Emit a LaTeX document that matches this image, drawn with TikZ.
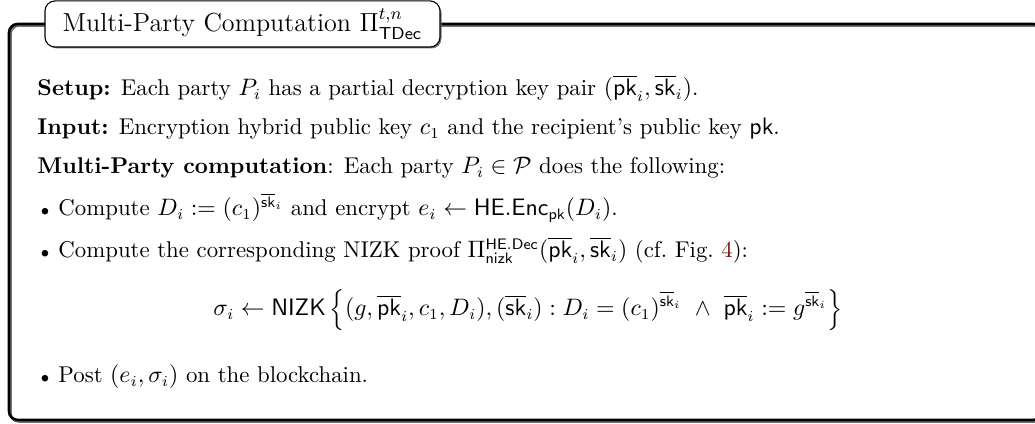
\documentclass[tikz,border=0pt]{standalone}
\usepackage{amsmath,amssymb}
\usepackage{xcolor}
\definecolor{linkred}{rgb}{0.5,0.05,0.05}
\tikzset{
  frame/.style={line width=1.2pt, rounded corners=4pt},
  shadowline/.style={line width=1.2pt, rounded corners=4pt, black!55},
  titlebox/.style={draw, line width=0.5pt, rounded corners=4.6pt, fill=white,
    minimum width=181.7pt, minimum height=21.2pt, inner sep=0pt, font=\fontsize{12}{14}\selectfont},
  txt/.style={anchor=base west, inner sep=0pt},
  bul/.style={anchor=base, inner sep=0pt}
}
\newcommand{\pkb}{\overline{\mathsf{pk}}}
\newcommand{\skb}{\overline{\mathsf{sk}}}
\newcommand{\bulletmark}{$\scriptstyle\bullet$}
\begin{document}
\begin{tikzpicture}[x=0.46pt,y=-0.46pt,font=\fontsize{10.5}{13}\selectfont]
\useasboundingbox (0,0) rectangle (1035,424);
\begin{scope}
  \clip (0,0) rectangle (1035,424);
  \draw[shadowline] (10.5,25.5) rectangle (1043.5,421.5);
  \draw[frame] (9,24) rectangle (1042,420);
\end{scope}
\fill[black!55,rounded corners=4.6pt] (47,3) rectangle (441.5,48.5);
\node[titlebox] (title) at (242.5,24) {Multi-Party Computation $\Pi^{t,n}_{\mathsf{TDec}}$};

\node[txt] (setup) at (37,96) {\textbf{Setup:} Each party $P_i$ has a partial decryption key pair $(\pkb_i,\skb_i)$.};
\node[txt] (input) at (37,135) {\textbf{Input:} Encryption hybrid public key $c_1$ and the recipient's public key $\mathsf{pk}$.};
\node[txt] (mpc) at (37,174) {\textbf{Multi-Party computation}: Each party $P_i\in\mathcal{P}$ does the following:};

\node[bul] (b1) at (45,216) {\bulletmark};
\node[txt] (i1) at (58,216) {Compute $D_i := (c_1)^{\skb_i}$ and encrypt $e_i \leftarrow \mathsf{HE.Enc}_{\mathsf{pk}}(D_i)$.};
\node[bul] (b2) at (45,258) {\bulletmark};
\node[txt] (i2) at (58,258) {Compute the corresponding NIZK proof $\Pi^{\mathsf{HE.Dec}}_{\mathsf{nizk}}(\pkb_i,\skb_i)$ (cf.\ Fig.~\textcolor{linkred}{4}):};
\node[anchor=base, inner sep=0pt] (eq) at (528,316) {$\displaystyle \sigma_i \leftarrow \mathsf{NIZK}\left\{(g,\pkb_i,c_1,D_i),(\skb_i): D_i=(c_1)^{\skb_i}\ \wedge\ \pkb_i := g^{\skb_i}\right\}$};
\node[bul] (b3) at (45,383) {\bulletmark};
\node[txt] (i3) at (58,383) {Post $(e_i,\sigma_i)$ on the blockchain.};
\end{tikzpicture}
\end{document}
